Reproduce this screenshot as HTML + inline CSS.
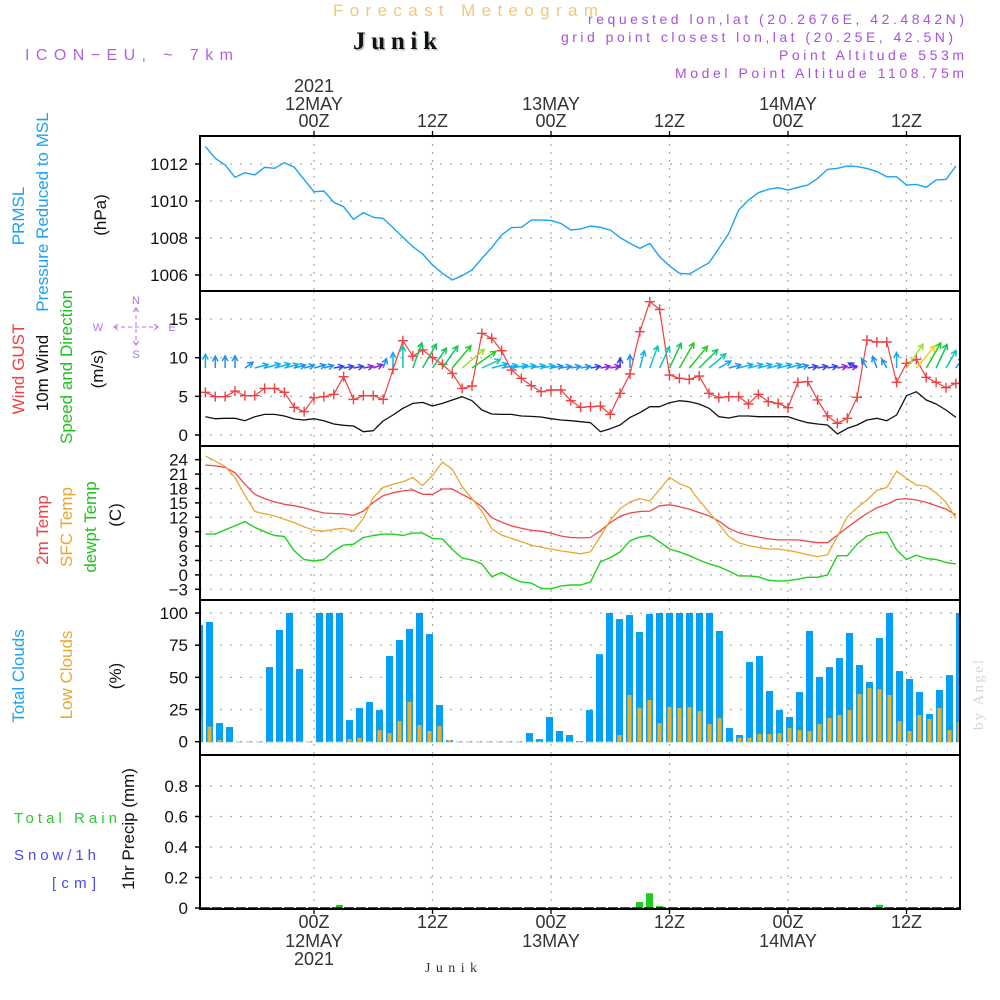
<!DOCTYPE html>
<html><head><meta charset="utf-8">
<style>
html,body{margin:0;padding:0;background:#fff;}
svg{display:block;font-family:"Liberation Sans",sans-serif;}
</style></head>
<body>
<svg id="chart" width="1000" height="1000" viewBox="0 0 1000 1000" xmlns="http://www.w3.org/2000/svg">
  <rect x="0" y="0" width="1000" height="1000" fill="#fff"/>
  <text x="333" y="16" font-size="17" fill="#f2c878" textLength="265" lengthAdjust="spacing">Forecast Meteogram</text>
  <text x="353" y="49" font-size="25" font-weight="bold" font-family="Liberation Serif, serif" fill="#b8ccb8" textLength="84" lengthAdjust="spacing" transform="translate(1.5,1.5)">Junik</text>
  <text x="353" y="49" font-size="25" font-weight="bold" font-family="Liberation Serif, serif" fill="#111" textLength="84" lengthAdjust="spacing">Junik</text>
  <text x="25" y="60" font-size="16" fill="#b060e8" textLength="208" lengthAdjust="spacing">ICON−EU,  ~  7km</text>
  <text x="588" y="24" font-size="14" fill="#a850e0" textLength="376" lengthAdjust="spacing">requested lon,lat (20.2676E, 42.4842N)</text>
  <text x="561" y="42" font-size="14" fill="#a850e0" textLength="392" lengthAdjust="spacing">grid point closest lon,lat (20.25E, 42.5N)</text>
  <text x="779" y="60" font-size="14" fill="#a850e0" textLength="185" lengthAdjust="spacing">Point Altitude 553m</text>
  <text x="675" y="78" font-size="14" fill="#a850e0" textLength="289" lengthAdjust="spacing">Model Point Altitude 1108.75m</text>
  <text x="0" y="0" font-size="15" font-family="Liberation Serif, serif" fill="#d4d4d4" transform="translate(983,730) rotate(-90)" textLength="70" lengthAdjust="spacing">by Angel</text>
  <text x="425" y="972" font-size="14" font-family="Liberation Serif, serif" fill="#333" textLength="52" lengthAdjust="spacing">Junik</text>
  <g id="leftLabels" font-size="16"></g>
  <g id="grid"></g>
  <g id="marks"></g>
  <g id="frames"></g>
</svg>
<script>
const firstHour = -11;
const pressure = [1012.94,1012.31,1011.95,1011.28,1011.53,1011.41,1011.82,1011.77,1012.07,1011.82,1011.17,1010.50,1010.54,1009.93,1009.69,1009.01,1009.37,1009.12,1009.06,1008.56,1008.04,1007.53,1007.14,1006.54,1006.09,1005.73,1005.96,1006.27,1006.90,1007.48,1008.16,1008.56,1008.58,1008.97,1008.97,1008.95,1008.79,1008.43,1008.49,1008.65,
1008.58,1008.43,1008.02,1007.71,1007.44,1007.71,1006.99,1006.49,1006.09,1006.05,1006.36,1006.66,1007.44,1008.25,1009.51,1010.05,1010.45,1010.63,1010.72,1010.59,1010.74,1010.86,1011.22,1011.71,1011.77,1011.89,1011.86,1011.75,1011.59,1011.31,1011.31,1010.86,1010.90,1010.74,1011.14,1011.17,1011.89];
const wind10 = [2.37,2.11,2.16,2.16,1.85,2.37,2.67,2.67,2.46,2.07,1.94,2.11,1.85,1.42,1.25,1.16,0.43,0.56,1.81,2.59,3.45,4.09,4.22,3.75,4.09,4.53,4.96,4.44,3.23,2.72,2.67,2.67,2.46,2.41,2.33,2.11,1.94,1.85,1.72,1.59,
0.43,0.82,1.29,2.28,2.89,3.66,3.66,4.18,4.44,4.31,4.01,3.45,2.37,2.2,2.46,2.46,2.37,2.37,2.37,2.37,1.94,1.59,1.42,1.29,0.13,0.86,1.29,1.94,2.16,1.85,2.59,5.09,5.6,4.53,4.01,3.23,2.28];
const gust = [5.52,4.96,4.96,5.69,5.09,5.09,6.03,6.03,5.52,3.58,3.02,4.83,4.96,5.26,7.54,4.61,5.09,5.09,4.61,8.49,12.2,10.2,11.0,10.0,9.14,7.97,6.03,6.34,13.15,12.5,10.9,8.4,7.33,6.38,5.6,5.82,5.82,4.44,3.58,3.66,
3.75,2.67,5.39,7.89,13.36,17.24,16.25,7.76,7.33,7.2,7.63,5.39,4.83,4.96,4.96,4.01,5.26,4.31,4.09,3.53,6.81,6.9,4.53,2.46,1.51,2.16,4.87,12.28,12.03,12.03,6.81,9.27,9.78,7.46,6.81,6.12,6.68];
const windDir = [0,0,0,0,55,75,75,75,75,75,75,75,75,80,80,80,80,70,20,0,0,20,30,35,35,40,50,55,65,75,80,80,80,80,80,80,80,80,80,80,
80,80,0,0,15,20,25,25,30,40,45,50,60,75,75,75,75,75,75,75,75,80,80,80,80,80,300,330,340,330,0,35,40,30,25,30,35];
const t2m = [22.9,22.7,22.4,21.3,18.9,16.8,15.9,15.2,14.7,14.4,14.0,13.4,12.9,12.8,12.7,12.4,13.3,15.1,16.5,17.1,17.5,17.7,16.8,16.8,17.9,17.9,16.8,15.7,14.2,11.9,11.0,10.2,9.7,9.3,9.1,8.7,8.1,7.8,7.7,
7.8,9.2,10.9,12.2,12.9,13.2,13.3,14.4,14.6,14.2,13.7,13.0,12.3,11.2,9.7,8.8,8.3,7.9,7.5,7.3,7.3,7.3,7.0,6.7,6.7,8.3,9.9,11.4,12.8,14.0,14.7,15.7,15.9,15.6,15.1,14.4,13.7,12.5];
const tsfc = [24.8,23.7,22.6,20.3,16.6,13.2,12.7,12.3,11.6,10.9,10.0,9.3,9.1,9.5,9.7,9.1,11.8,16.1,18.2,18.9,19.4,20.3,18.6,20.7,23.5,22.0,18.4,15.9,13.2,9.6,8.3,7.6,6.9,6.2,5.8,5.4,5.0,4.7,4.4,
4.8,8.0,11.4,13.8,15.2,15.9,15.4,17.8,20.3,19.0,18.2,15.5,13.1,10.6,8.0,6.7,6.1,5.7,5.4,5.4,5.1,4.7,4.2,3.8,4.2,8.0,12.1,14.0,15.6,17.6,18.2,21.6,20.1,18.7,18.5,17.1,15.1,11.8];
const tdew = [8.5,8.5,9.4,10.2,11.1,9.9,9.0,8.2,8.0,5.0,3.2,2.9,3.2,5.0,6.2,6.4,7.8,8.2,8.5,8.5,8.2,8.7,8.7,7.6,7.5,5.3,3.5,3.1,2.3,-0.4,0.5,-0.6,-1.5,-1.7,-2.8,-2.9,-2.3,-2.1,-2.1,
-1.5,2.7,3.6,4.8,7.1,7.9,8.2,6.9,5.4,4.8,4.0,3.1,2.3,1.7,0.8,-0.2,-0.2,-0.4,-1.1,-1.3,-1.2,-0.9,-0.5,-0.5,0.0,4.0,4.0,6.4,8.1,8.7,8.9,5.2,3.2,4.1,3.4,3.2,2.6,2.3];
const totalClouds = [90.7,93,14.5,11.4,0,0,0,58,86.8,100,56.5,0,100,100,100,16.8,26.2,30.8,24.6,66.6,79,87.6,100,83.7,28.5,1.3,0,0,0,0,0,0,0,6.7,2,19.2,8.3,5.2,0.5,24.6,68,100,95.3,98.4,85.2,99.2,100,100,100,100,100,100,86,10.6,5.2,61.9,66.6,39.4,24.6,19.2,38.6,86,50.3,58,65,84.5,59.6,46.4,80.6,100,54.9,48.7,38.6,21.5,40.2,51.8,100];
const lowClouds = [19.4,11.7,1.3,0,0,0,0,0.5,0.5,0.5,0.5,0,0,0.5,0.5,2,3,0.5,9,6.7,16,31,13,8.3,12.2,1.3,0,0,0,0,0,0,0,0.5,0.5,0.5,0.5,0.5,0.5,0.5,0.5,0.5,5.2,36.3,26.4,32.4,14.5,27,26.2,27,23.8,13.7,18.4,0.5,3.1,3.1,6,6,6.7,10.6,9,8.3,13.7,18.4,20.7,24.6,37,41.7,40.9,36.3,16,8.3,20.7,17.6,26.2,9,15.3];
const precip = [0,0,0,0,0,0,0,0,0,0,0,0,0,0,0.02,0,0,0,0,0,0,0,0,0,0,0,0,0,0,0,0,0,0,0,0,0,0,0,0,0,0,0,0,0,0.039,0.097,0.013,0,0,0,0,0,0,0,0,0,0,0,0,0,0,0,0,0,0,0,0,0,0.021,0,0,0,0,0,0,0,0];
const pTicks = [1006,1008,1010,1012];
const wTicks = [0,5,10,15];
const tTicks = [-3,0,3,6,9,12,15,18,21,24];
const cTicks = [0,25,50,75,100];
const rTicks = [0,0.2,0.4,0.6,0.8];
const timeTicks = [0,12,24,36,48,60];
const timeTop = ["00Z","12Z","00Z","12Z","00Z","12Z"];
const dayLabels = ["12MAY","","13MAY","","14MAY",""];

const X0=200, X1=960;
const xT = h => 314 + h*9.875;
const xBar = k => 199.5 + k*10;
const panels = [
  {top:136,bot:291},{top:291,bot:446},{top:446,bot:600},{top:600,bot:755},{top:755,bot:909}
];
const yP = p => 164 + (1012-p)*18.5;
const yW = v => 435 - v*7.73;
const yTm = t => 574.9 - t*4.8;
const yC = c => 741.7 - c*1.287;
const yR = r => 908 - r*152.5;

const NS='http://www.w3.org/2000/svg';
function mk(tag, attrs, parent){
  const e=document.createElementNS(NS,tag);
  for(const k in attrs) e.setAttribute(k,attrs[k]);
  parent.appendChild(e); return e;
}
const grid=document.getElementById('grid');
const marks=document.getElementById('marks');
const frames=document.getElementById('frames');
const left=document.getElementById('leftLabels');

const defs=mk('defs',{},document.getElementById('chart'));
const cp=mk('clipPath',{id:'plotclip'},defs);
mk('rect',{x:X0,y:136,width:X1-X0,height:773},cp);
marks.setAttribute('clip-path','url(#plotclip)');

panels.forEach((p,i)=>{
  timeTicks.forEach(h=>{
    const l=mk('line',{x1:xT(h),x2:xT(h),y1:p.top,y2:p.bot,stroke:'#aaa','stroke-width':1.2,'stroke-dasharray':'2,6'},grid);
    
    
  });
});
function hgrid(ticks, yf, fmt, name){
  ticks.forEach(v=>{
    const y=yf(v);
    const l=mk('line',{x1:X0,x2:X1,y1:y,y2:y,stroke:'#aaa','stroke-width':1.2,'stroke-dasharray':'2,8'},grid);
    
    
    mk('line',{x1:X0-5,x2:X0,y1:y,y2:y,stroke:'#000','stroke-width':1.5},frames);
    const t=mk('text',{x:188,y:y+6,'font-size':17,'text-anchor':'end',fill:'#111'},frames);
    t.textContent=fmt(v);
    
    
  });
}
hgrid(pTicks,yP,v=>String(v),'pressure');
hgrid(wTicks,yW,v=>String(v),'wind');
hgrid(tTicks,yTm,v=>v<0?'−'+Math.abs(v):String(v),'temp');
hgrid(cTicks,yC,v=>String(v),'cloud');
hgrid(rTicks,yR,v=>v===0?'0':v.toFixed(1),'precip');

function line(arr, yf, color, name, w){
  const pts=arr.map((v,i)=>xT(firstHour+i).toFixed(1)+','+yf(v).toFixed(1)).join(' ');
  const pl=mk('polyline',{points:pts,fill:'none',stroke:color,'stroke-width':w||1.3,'stroke-linejoin':'round'},marks);
  
  
}
line(pressure,yP,'#1aa3f5','pressure-line',1.4);
line(wind10,yW,'#111','wind10-line',1.3);
line(gust,yW,'#f04040','gust-line',1.2);
gust.forEach((v,i)=>{
  const x=xT(firstHour+i), y=yW(v);
  const g=mk('path',{d:`M${x-5},${y}H${x+5}M${x},${y-5}V${y+5}`,stroke:'#f04040','stroke-width':1.4},marks);
  
  
});
function spdColor(s){
  if(s<1.0) return '#9020e0';
  if(s<1.6) return '#3040f0';
  if(s<2.3) return '#2090f0';
  if(s<3.0) return '#10b0f0';
  if(s<3.7) return '#10c8b0';
  if(s<4.3) return '#10c860';
  if(s<4.8) return '#20d020';
  if(s<5.3) return '#a0e030';
  return '#f0d020';
}
windDir.forEach((d,i)=>{
  const s=wind10[i];
  const len=Math.max(10,Math.min(29,7.5*s-4));
  const x=xT(firstHour+i), y=368;
  const a=d*Math.PI/180;
  const x2=x+len*Math.sin(a), y2=y-len*Math.cos(a);
  const hl=6, ha=0.5;
  const b1x=x2-hl*Math.sin(a-ha), b1y=y2+hl*Math.cos(a-ha);
  const b2x=x2-hl*Math.sin(a+ha), b2y=y2+hl*Math.cos(a+ha);
  const c=spdColor(s);
  const p=mk('path',{d:`M${x.toFixed(1)},${y}L${x2.toFixed(1)},${y2.toFixed(1)}M${b1x.toFixed(1)},${b1y.toFixed(1)}L${x2.toFixed(1)},${y2.toFixed(1)}L${b2x.toFixed(1)},${b2y.toFixed(1)}`,stroke:c,'stroke-width':1.5,fill:'none'},marks);
  
  
});
line(t2m,yTm,'#f04848','temp-2m-line',1.3);
line(tsfc,yTm,'#e8a830','temp-sfc-line',1.3);
line(tdew,yTm,'#20d020','dewpoint-line',1.4);
totalClouds.forEach((v,k)=>{
  const x=xBar(k), y=yC(v);
  const r=mk('rect',{x:x-3.5,y:y,width:7,height:yC(0)-y+0.5,fill:'#059ff5'},marks);
  
  
});
lowClouds.forEach((v,k)=>{
  const x=xBar(k), y=yC(v);
  const r=mk('rect',{x:x-2,y:y,width:4,height:yC(0)-y+0.5,fill:'#e8b030'},marks);
  
  
});
precip.forEach((v,k)=>{
  if(v<=0) return;
  const x=xBar(k), y=yR(v);
  const r=mk('rect',{x:x-3.5,y:y,width:7,height:yR(0)-y,fill:'#20cc20'},marks);
  
  
});
mk('line',{x1:X0,x2:X1,y1:yR(0),y2:yR(0),stroke:'#111','stroke-width':1.5,'stroke-dasharray':'10,2'},marks);

panels.forEach((p,i)=>{
  const r=mk('rect',{x:X0,y:p.top,width:X1-X0,height:p.bot-p.top,fill:'none',stroke:'#000','stroke-width':2},frames);
  
  
});
timeTicks.forEach((h,i)=>{
  const x=xT(h);
  mk('line',{x1:x,x2:x,y1:131,y2:136,stroke:'#000','stroke-width':1.3},frames);
  mk('line',{x1:x,x2:x,y1:909,y2:914,stroke:'#000','stroke-width':1.3},frames);
  const t=mk('text',{x:x,y:127,'font-size':18,'text-anchor':'middle',fill:'#333'},frames);
  t.textContent=timeTop[i];
  
  
  const b=mk('text',{x:x,y:928,'font-size':18,'text-anchor':'middle',fill:'#333'},frames);
  b.textContent=timeTop[i];
  
  
  if(dayLabels[i]){
    const d=mk('text',{x:x,y:110,'font-size':18,'text-anchor':'middle',fill:'#333'},frames);
    d.textContent=dayLabels[i];
    
    
    const d2=mk('text',{x:x,y:947,'font-size':18,'text-anchor':'middle',fill:'#333'},frames);
    d2.textContent=dayLabels[i];
    
    
  }
});
const yr=mk('text',{x:xT(0),y:92,'font-size':18,'text-anchor':'middle',fill:'#333'},frames);
yr.textContent='2021';


const yr2=mk('text',{x:xT(0),y:965,'font-size':18,'text-anchor':'middle',fill:'#333'},frames);
yr2.textContent='2021';



const vlabels=[
  ['PRMSL','#1aa3f5',24,216,'prmsl-label'],
  ['Pressure Reduced to MSL','#1aa3f5',48,212,'pressure-title'],
  ['(hPa)','#111',106,215,'pressure-unit'],
  ['Wind GUST','#f04040',24,369,'gust-title'],
  ['10m Wind','#111',48,373,'wind10-title'],
  ['Speed and Direction','#20c020',72,367,'wind-direction-title'],
  ['(m/s)','#111',103,369,'wind-unit'],
  ['2m Temp','#f04040',48,530,'temp-2m-title'],
  ['SFC Temp','#e8a830',72,527,'temp-sfc-title'],
  ['dewpt Temp','#20c020',96,527,'dewpoint-title'],
  ['(C)','#111',121,515,'temp-unit'],
  ['Total Clouds','#1aa3f5',24,676,'total-clouds-title'],
  ['Low Clouds','#e8a830',72,675,'low-clouds-title'],
  ['(%)','#111',121,676,'cloud-unit'],
  ['1hr Precip (mm)','#111',134,829,'precip-title']
];
vlabels.forEach(v=>{
  const t=mk('text',{x:0,y:0,'font-size':17,'text-anchor':'middle',fill:v[1],transform:`translate(${v[2]},${v[3]}) rotate(-90)`},left);
  t.textContent=v[0];
  
  
});
const hl=[['Total  Rain','#30c830',14,823,103,'rain-legend'],['Snow/1h','#4848f0',14,860,82,'snow-legend'],['[cm]','#4848f0',52,888,44,'snow-unit']];
hl.forEach(v=>{
  const t=mk('text',{x:v[2],y:v[3],'font-size':15,fill:v[1],textLength:v[4],lengthAdjust:'spacing'},left);
  t.textContent=v[0];
  
  
});
const cx=136, cy=327, cc='#b070f0';
const comp=mk('g',{},left);
mk('path',{d:`M${cx},${cy-19}V${cy+18}M${cx-22},${cy}H${cx+22}`,stroke:cc,'stroke-width':1,'stroke-dasharray':'4,3',fill:'none'},comp);
mk('path',{d:`M${cx-3},${cy-15}L${cx},${cy-19}L${cx+3},${cy-15}M${cx-3},${cy+14}L${cx},${cy+18}L${cx+3},${cy+14}M${cx-18},${cy-3}L${cx-22},${cy}L${cx-18},${cy+3}M${cx+18},${cy-3}L${cx+22},${cy}L${cx+18},${cy+3}`,stroke:cc,'stroke-width':1,fill:'none'},comp);
[['N',cx,cy-23],['S',cx,cy+31],['W',cx-38,cy+4],['E',cx+36,cy+4]].forEach(a=>{
  const t=mk('text',{x:a[1],y:a[2],'font-size':11,'text-anchor':'middle',fill:cc},comp);
  t.textContent=a[0];
  
  
});
</script>
</body></html>
